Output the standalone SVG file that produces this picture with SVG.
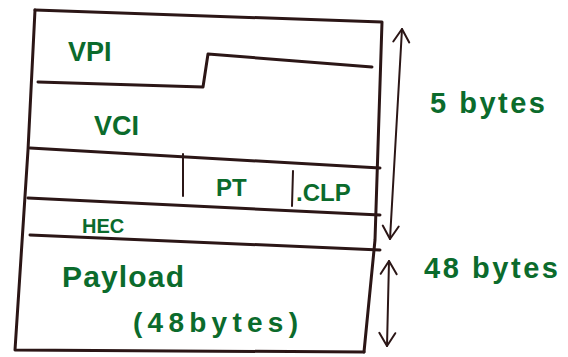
<svg xmlns="http://www.w3.org/2000/svg" width="568" height="357" viewBox="0 0 568 357">
<style>
.ln{fill:none;stroke:#2b1616;stroke-width:3;stroke-linecap:round;stroke-linejoin:round}
.ar{fill:none;stroke:#2b1616;stroke-width:2;stroke-linecap:round}
.t{font-family:"Liberation Sans",Arial,sans-serif;fill:#0b6b2c;font-weight:bold}
</style>
<defs>
<marker id="ah" viewBox="0 0 20 20" refX="17" refY="10" markerWidth="20" markerHeight="20" markerUnits="userSpaceOnUse" orient="auto-start-reverse">
<path d="M4,2 L17,10 L4,18" fill="none" stroke="#2b1616" stroke-width="2" stroke-linecap="round" stroke-linejoin="round"/>
</marker>
</defs>
<g id="cell-frame">
<path class="ln" d="M35,10 L382,22 L375,240 L364,352"/>
<path class="ln" d="M35,10 L28,150 L15,350 L364,352"/>
</g>
<g id="connectors">
<path class="ln" d="M38,82 L203,87 L208,54 L372,67"/>
<path class="ln" d="M30,148 L380,168"/>
<path class="ln" d="M28,198 L380,215"/>
<path class="ln" d="M30,235 L380,250"/>
<path class="ln" d="M183,154 L183,196" style="stroke-width:2"/>
<path class="ln" d="M293,171 L292,206" style="stroke-width:2"/>
<path class="ar" d="M402,29 L390,239" marker-start="url(#ah)" marker-end="url(#ah)"/>
<path class="ar" d="M389,261 L387,346" marker-start="url(#ah)" marker-end="url(#ah)"/>
</g>
<g id="vpi"><text class="t" x="68" y="61" font-size="27">VPI</text></g>
<g id="vci"><text class="t" x="94" y="135" font-size="27">VCI</text></g>
<g id="pt"><text class="t" x="216" y="196" font-size="24">PT</text></g>
<g id="clp"><text class="t" x="296" y="201" font-size="24">.CLP</text></g>
<g id="hec"><text class="t" x="82" y="233" font-size="20">HEC</text></g>
<g id="payload">
<text class="t" x="62" y="287" font-size="30" textLength="122" lengthAdjust="spacing">Payload</text>
<text class="t" x="133" y="332" font-size="28" textLength="165" lengthAdjust="spacing">(48bytes)</text>
</g>
<g id="header-size"><text class="t" x="430" y="113" font-size="29" textLength="115" lengthAdjust="spacing">5 bytes</text></g>
<g id="payload-size"><text class="t" x="424" y="278" font-size="29" textLength="134" lengthAdjust="spacing">48 bytes</text></g>
</svg>
